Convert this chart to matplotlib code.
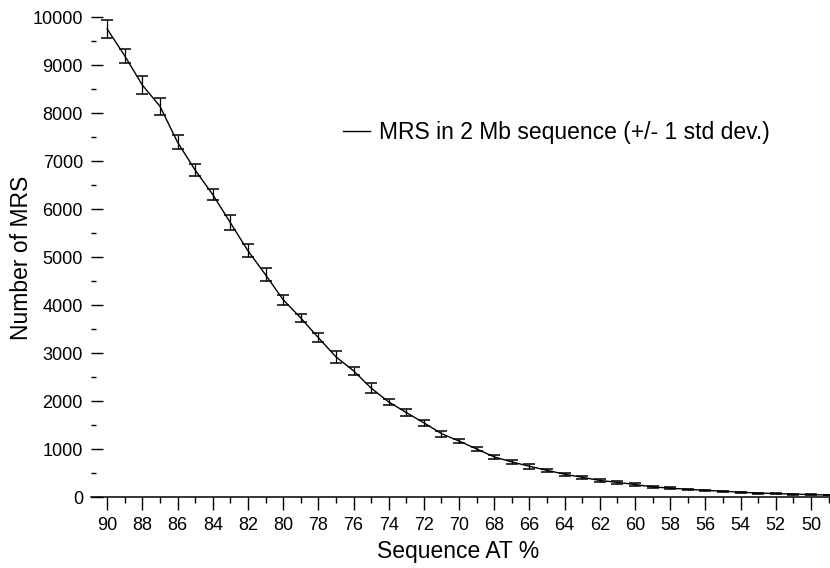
import matplotlib
matplotlib.use("Agg")
import matplotlib.pyplot as plt
from matplotlib.ticker import MultipleLocator
import numpy as np

at_percent = list(range(90, 48, -1))
mrs_count = [9750, 9190, 8580, 8140, 7390, 6810, 6300, 5715, 5130, 4630,
             4110, 3730, 3320, 2920, 2630, 2270, 1980, 1760, 1545, 1320,
             1165, 1000, 835, 730, 640, 555, 475, 410, 345, 305,
             260, 210, 185, 160, 140, 120, 100, 82, 72, 60,
             50, 40]
mrs_std = [190, 150, 190, 180, 150, 120, 110, 150, 140, 140,
           100, 90, 100, 130, 80, 100, 70, 70, 60, 60,
           50, 50, 40, 40, 50, 30, 30, 30, 25, 30,
           25, 20, 20, 15, 15, 15, 12, 10, 10, 8,
           8, 6]
legend_label = "MRS in 2 Mb sequence (+/- 1 std dev.)"
x_label = "Sequence AT %"
y_label = "Number of MRS"

plt.rcParams['font.family'] = ['Liberation Sans', 'DejaVu Sans']

W, H = 830, 568
fig = plt.figure(figsize=(W / 100, H / 100), dpi=100)
ax = fig.add_axes([91 / W, 1 - 497 / H, (W - 91) / W, 480 / H])

line, = ax.plot(at_percent, mrs_count, color='black', lw=1.0)
ax.errorbar(at_percent, mrs_count, yerr=mrs_std, fmt='none', ecolor='black',
            elinewidth=0.9, capsize=4.5, capthick=1.1)

ax.set_xlim(90.92, 48.92)
ax.set_ylim(0, 10000)

for s in ['top', 'right', 'left']:
    ax.spines[s].set_visible(False)
ax.spines['bottom'].set_linewidth(1.1)

ax.xaxis.set_major_locator(MultipleLocator(2))
ax.xaxis.set_minor_locator(MultipleLocator(1))
ax.yaxis.set_major_locator(MultipleLocator(1000))
ax.yaxis.set_minor_locator(MultipleLocator(500))

ax.tick_params(axis='x', which='major', direction='out', length=9.4, width=1.0,
               labelsize=13, pad=4.8)
ax.tick_params(axis='x', which='minor', direction='out', length=4.3, width=1.0)
ax.tick_params(axis='y', which='major', direction='in', length=8.6, width=1.0,
               labelsize=13, pad=5.8)
ax.tick_params(axis='y', which='minor', direction='in', length=3.6, width=1.0)

fig.text(458 / W, 1 - 558 / H, x_label, ha='center', va='baseline', fontsize=16.5)
fig.text(22 / W, 1 - 258 / H, y_label, ha='center', va='center', rotation=90,
         fontsize=16.5)

ax.legend([line], [legend_label], frameon=False, fontsize=16.5,
          loc='center left', bbox_to_anchor=(343 / W, 1 - 133 / H),
          bbox_transform=fig.transFigure, borderpad=0, borderaxespad=0,
          handlelength=1.18, handletextpad=0.4)

fig.savefig("out.png", dpi=100)
